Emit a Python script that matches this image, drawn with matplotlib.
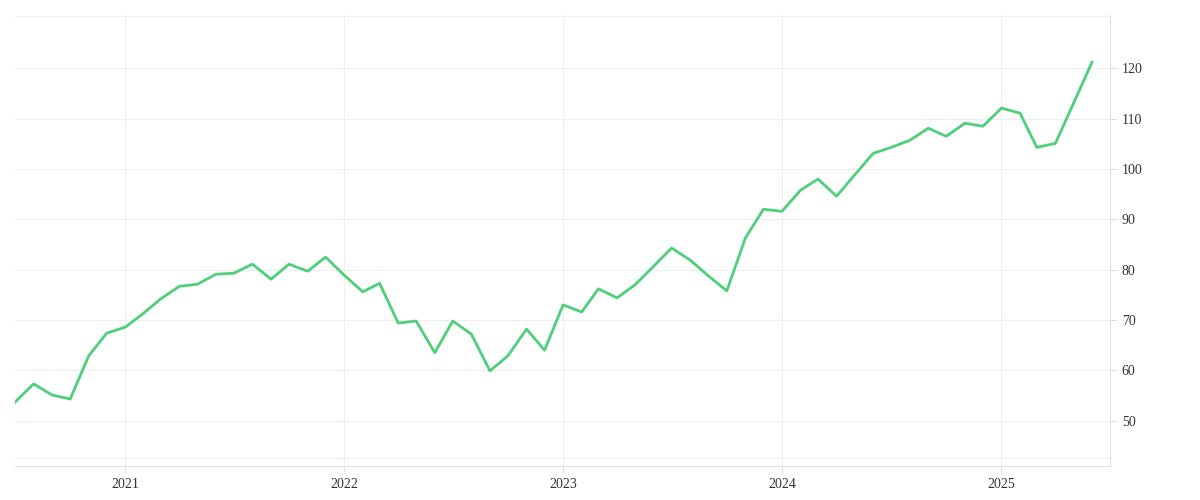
import matplotlib
matplotlib.use("Agg")
import matplotlib.pyplot as plt
import matplotlib.dates as mdates
import pandas as pd

# monthly values (May 2025 not shown as a point)
months = pd.date_range("2020-07-01", "2025-04-01", freq="MS").tolist() + [pd.Timestamp("2025-06-01")]
values = [53.7, 57.3, 55.1, 54.3, 62.9, 67.4,
          68.6, 71.4, 74.2, 76.7, 77.1, 79.1, 79.3, 81.1, 78.1, 81.1, 79.7, 82.5,
          78.9, 75.6, 77.3, 69.4, 69.8, 63.5, 69.8, 67.2, 59.9, 62.9, 68.2, 64.0,
          73.0, 71.6, 76.2, 74.4, 77.0, 80.7, 84.3, 81.9, 78.7, 75.8, 86.3, 92.0,
          91.6, 95.8, 98.0, 94.6, 98.8, 103.1, 104.3, 105.7, 108.1, 106.5, 109.1, 108.5,
          112.1, 111.1, 104.3, 105.1, 121.2]
y_ticks = [50, 60, 70, 80, 90, 100, 110, 120]

plt.rcParams['font.family'] = ['Liberation Serif', 'DejaVu Serif']

fig = plt.figure(figsize=(12, 5), dpi=100)
ax = fig.add_axes([0.0125, 0.068, 0.9125, 0.902])

ax.plot(months, values, color='#4ed07a', linewidth=2.0)

ax.set_xlim(pd.Timestamp("2020-07-01"), pd.Timestamp("2025-07-01"))
ax.set_ylim(41.0, 130.6)
ax.set_yticks(y_ticks)
ax.yaxis.tick_right()
ax.xaxis.set_major_locator(mdates.YearLocator())
ax.xaxis.set_major_formatter(mdates.DateFormatter('%Y'))
ax.grid(True, color='#efefef', linewidth=0.8)
ax.axhline(130.4, color='#efefef', linewidth=0.8)
ax.axhline(42.6, color='#efefef', linewidth=0.8)

for s in ['top', 'left']:
    ax.spines[s].set_visible(False)
for s in ['bottom', 'right']:
    ax.spines[s].set_color('#e0e0e0')
ax.tick_params(colors='#333333', labelsize=10, length=5, direction='out')
ax.tick_params(axis='both', color='#e0e0e0')

fig.savefig("out.png", dpi=100)
